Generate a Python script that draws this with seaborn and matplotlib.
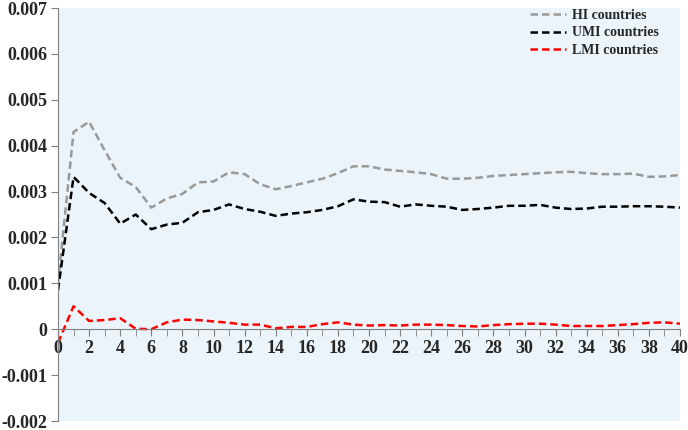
import numpy as np
import pandas as pd
import matplotlib
matplotlib.use("Agg")
import matplotlib.pyplot as plt
import seaborn as sns
from matplotlib.ticker import MultipleLocator, FuncFormatter

# periods after the shock
periods = list(range(41))

hi = [0.0010, 0.00430, 0.00452, 0.00390, 0.00330, 0.00310, 0.00265, 0.00285, 0.00295, 0.00320,
      0.00322, 0.00342, 0.00338, 0.00316, 0.00305, 0.00312, 0.00320, 0.00328, 0.00340, 0.00355,
      0.00355, 0.00348, 0.00345, 0.00342, 0.00338, 0.00328, 0.00328, 0.00330, 0.00334, 0.00336,
      0.00338, 0.00340, 0.00342, 0.00343, 0.00340, 0.00338, 0.00338, 0.00339, 0.00332, 0.00333,
      0.00336]
umi = [0.00085, 0.00332, 0.00297, 0.00275, 0.00230, 0.00250, 0.00218, 0.00228, 0.00232, 0.00255,
       0.00260, 0.00272, 0.00262, 0.00256, 0.00247, 0.00252, 0.00255, 0.00260, 0.00268, 0.00283,
       0.00278, 0.00277, 0.00267, 0.00272, 0.00269, 0.00267, 0.00260, 0.00262, 0.00265, 0.00269,
       0.00269, 0.00271, 0.00265, 0.00262, 0.00263, 0.00267, 0.00267, 0.00268, 0.00268, 0.00267,
       0.00265]
lmi = [-0.00030, 0.00050, 0.00018, 0.00020, 0.00024, 0.00001, 0.00000, 0.00015, 0.00021, 0.00020,
       0.00017, 0.00014, 0.00010, 0.00010, 0.00002, 0.00005, 0.00005, 0.00011, 0.00015, 0.00010,
       0.00008, 0.00009, 0.00008, 0.00010, 0.00010, 0.00009, 0.00007, 0.00006, 0.00009, 0.00011,
       0.00012, 0.00012, 0.00010, 0.00007, 0.00007, 0.00007, 0.00009, 0.00011, 0.00014, 0.00015,
       0.00012]

series = ["HI countries", "UMI countries", "LMI countries"]
colors = ["#999999", "#000000", "#ff0000"]

df = pd.DataFrame({
    "period": periods * 3,
    "value": hi + umi + lmi,
    "group": [s for s in series for _ in periods],
})

sns.set_style("white")
plt.rcParams["font.family"] = ["Liberation Serif", "DejaVu Serif"]
plt.rcParams["axes.unicode_minus"] = False

fig = plt.figure(figsize=(6.88, 4.3), dpi=100)
ax = fig.add_axes([58 / 688, 9 / 430, 622 / 688, 413 / 430])
ax.set_facecolor("#ebf4fa")

for name, c in zip(series, colors):
    sns.lineplot(data=df[df["group"] == name], x="period", y="value", color=c,
                 linestyle=(0, (3, 1.6)), linewidth=1.8, label=name, ax=ax)

ax.set_xlim(0, 40)
ax.set_ylim(-0.002, 0.007)
ax.set_xlabel("")
ax.set_ylabel("")

for s in ["top", "right"]:
    ax.spines[s].set_visible(False)
ax.spines["bottom"].set_position(("data", 0))
ax.spines["bottom"].set_color("#808080")
ax.spines["left"].set_color("#808080")

ax.xaxis.set_major_locator(MultipleLocator(2))
ax.xaxis.set_minor_locator(MultipleLocator(1))
ax.yaxis.set_major_locator(MultipleLocator(0.001))
ax.yaxis.set_major_formatter(FuncFormatter(lambda v, p: "0" if abs(v) < 1e-9 else f"{v:.3f}"))
ax.tick_params(axis="x", which="both", direction="out", length=5, color="#808080",
               bottom=True, pad=3)
ax.tick_params(axis="y", direction="out", length=5, color="#808080", left=True, pad=3)
for lab in ax.get_xticklabels() + ax.get_yticklabels():
    lab.set_fontweight("bold")
    lab.set_fontsize(13)

leg = ax.legend(loc="upper right", bbox_to_anchor=(0.975, 1.012), frameon=False,
                prop={"weight": "bold", "size": 10},
                handlelength=2.6, labelspacing=0.35, borderaxespad=0, handletextpad=0.4)

fig.savefig("out.png", dpi=100, facecolor="white")
